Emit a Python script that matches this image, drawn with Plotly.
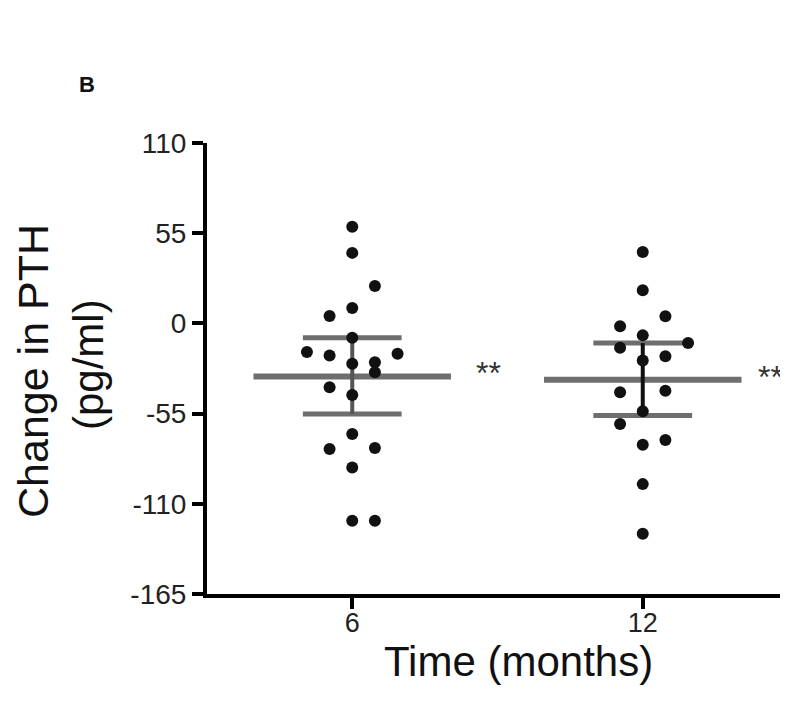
import plotly.graph_objects as go

# ---- data ----
categories = ["6", "12"]
cat_pos = [1, 2]

# change in PTH (pg/ml) per subject, and the column slot each dot sits in
g6_values = [58.9, 43.0, 22.8, 9.4, 4.5, -8.7, -17.5, -19.6, -18.5, -24.6,
             -23.7, -29.8, -38.9, -43.6, -67.4, -76.6, -76.0, -87.8, -120.4, -120.4]
g6_slots = [0, 0, 1, 0, -1, 0, -2, -1, 2, 0,
            1, 1, -1, 0, 0, -1, 1, 0, 0, 1]

g12_values = [43.6, 20.2, 4.3, -1.8, -7.3, -12.0, -14.9, -22.6, -20.0, -42.0,
              -41.0, -53.6, -61.3, -74.0, -71.1, -98.0, -128.2]
g12_slots = [0, 0, 1, -1, 0, 2, -1, 0, 1, -1,
             1, 0, -1, 0, 1, 0, 0]

centre_vals = [-32.4, -34.4]
err_low = [-55.2, -56.2]
err_high = [-8.7, -12.0]
sig_labels = ["**", "**"]

y_ticks = [-165, -110, -55, 0, 55, 110]

# ---- styling ----
slot_w = 0.078
mean_half = 0.34
cap_half = 0.17
sig_offsets = [0.47, 0.44]
FONT = "Liberation Sans, Arial, sans-serif"
stem_colors = ["#555555", "#111111"]

W, H = 788, 711
OFF = 8  # page body margin
plot_l, plot_r, plot_t, plot_b = 199, 0, 135, 125
pw = W - plot_l - plot_r
ph = H - plot_t - plot_b
px_per_unit = 290.5
x_range = [0.5, 0.5 + pw / px_per_unit]


def px_to_paper(X, Y):
    return (X - OFF - plot_l) / pw, (H - (Y - OFF) - plot_b) / ph


fig = go.Figure()

groups = [(g6_values, g6_slots), (g12_values, g12_slots)]

# summary lines (mean + error bars)
for i, pos in enumerate(cat_pos):
    fig.add_trace(go.Scatter(x=[pos - mean_half, pos + mean_half],
                             y=[centre_vals[i], centre_vals[i]],
                             mode="lines", line=dict(color="#6e6e6e", width=6),
                             hoverinfo="skip", showlegend=False))
    for v in (err_low[i], err_high[i]):
        fig.add_trace(go.Scatter(x=[pos - cap_half, pos + cap_half], y=[v, v],
                                 mode="lines", line=dict(color="#6e6e6e", width=5),
                                 hoverinfo="skip", showlegend=False))
    fig.add_trace(go.Scatter(x=[pos, pos], y=[err_low[i], err_high[i]],
                             mode="lines", line=dict(color=stem_colors[i], width=4),
                             hoverinfo="skip", showlegend=False))

# dots
for i, (vals, slots) in enumerate(groups):
    xs = [cat_pos[i] + s * slot_w for s in slots]
    fig.add_trace(go.Scatter(x=xs, y=vals, mode="markers",
                             marker=dict(color="#111111", size=12),
                             showlegend=False, name=categories[i]))

annotations = []
for i, pos in enumerate(cat_pos):
    annotations.append(dict(x=pos + sig_offsets[i], y=centre_vals[i] + 2, xref="x", yref="y",
                            xanchor="center", yanchor="middle",
                            text=sig_labels[i], showarrow=False,
                            font=dict(family=FONT, size=32, color="#333333")))

pixel_texts = [
    # (text, X, Y, size, angle)
    ("Time (months)", 518, 661, 42, 0),
    ("Change in PTH", 33, 371, 43, -90),
    ("(pg/ml)", 88, 365, 42, -90),
    ("<b>B</b>", 87, 85, 22, 0),
]
for txt, X, Y, size, ang in pixel_texts:
    px, py = px_to_paper(X, Y)
    annotations.append(dict(x=px, y=py, xref="paper", yref="paper", text=txt,
                            xanchor="center", yanchor="middle", textangle=ang,
                            showarrow=False,
                            font=dict(family=FONT, size=size, color="#111111")))

fig.update_layout(
    width=W, height=H,
    margin=dict(l=plot_l, r=plot_r, t=plot_t, b=plot_b),
    paper_bgcolor="white", plot_bgcolor="white",
    annotations=annotations,
    xaxis=dict(range=x_range, tickvals=cat_pos, ticktext=categories,
               showgrid=False, zeroline=False, showline=True, linecolor="black",
               linewidth=4, ticks="outside", ticklen=11, tickwidth=4, tickcolor="black",
               ticklabelstandoff=-9,
               tickfont=dict(family=FONT, size=27, color="#222222")),
    yaxis=dict(range=[-165, 110], tickvals=y_ticks, ticktext=[str(t) for t in y_ticks],
               showgrid=False, zeroline=False, showline=True, linecolor="black",
               linewidth=4, ticks="outside", ticklen=11, tickwidth=4, tickcolor="black",
               tickfont=dict(family=FONT, size=28, color="#222222")),
)

fig.write_html("out.html")
